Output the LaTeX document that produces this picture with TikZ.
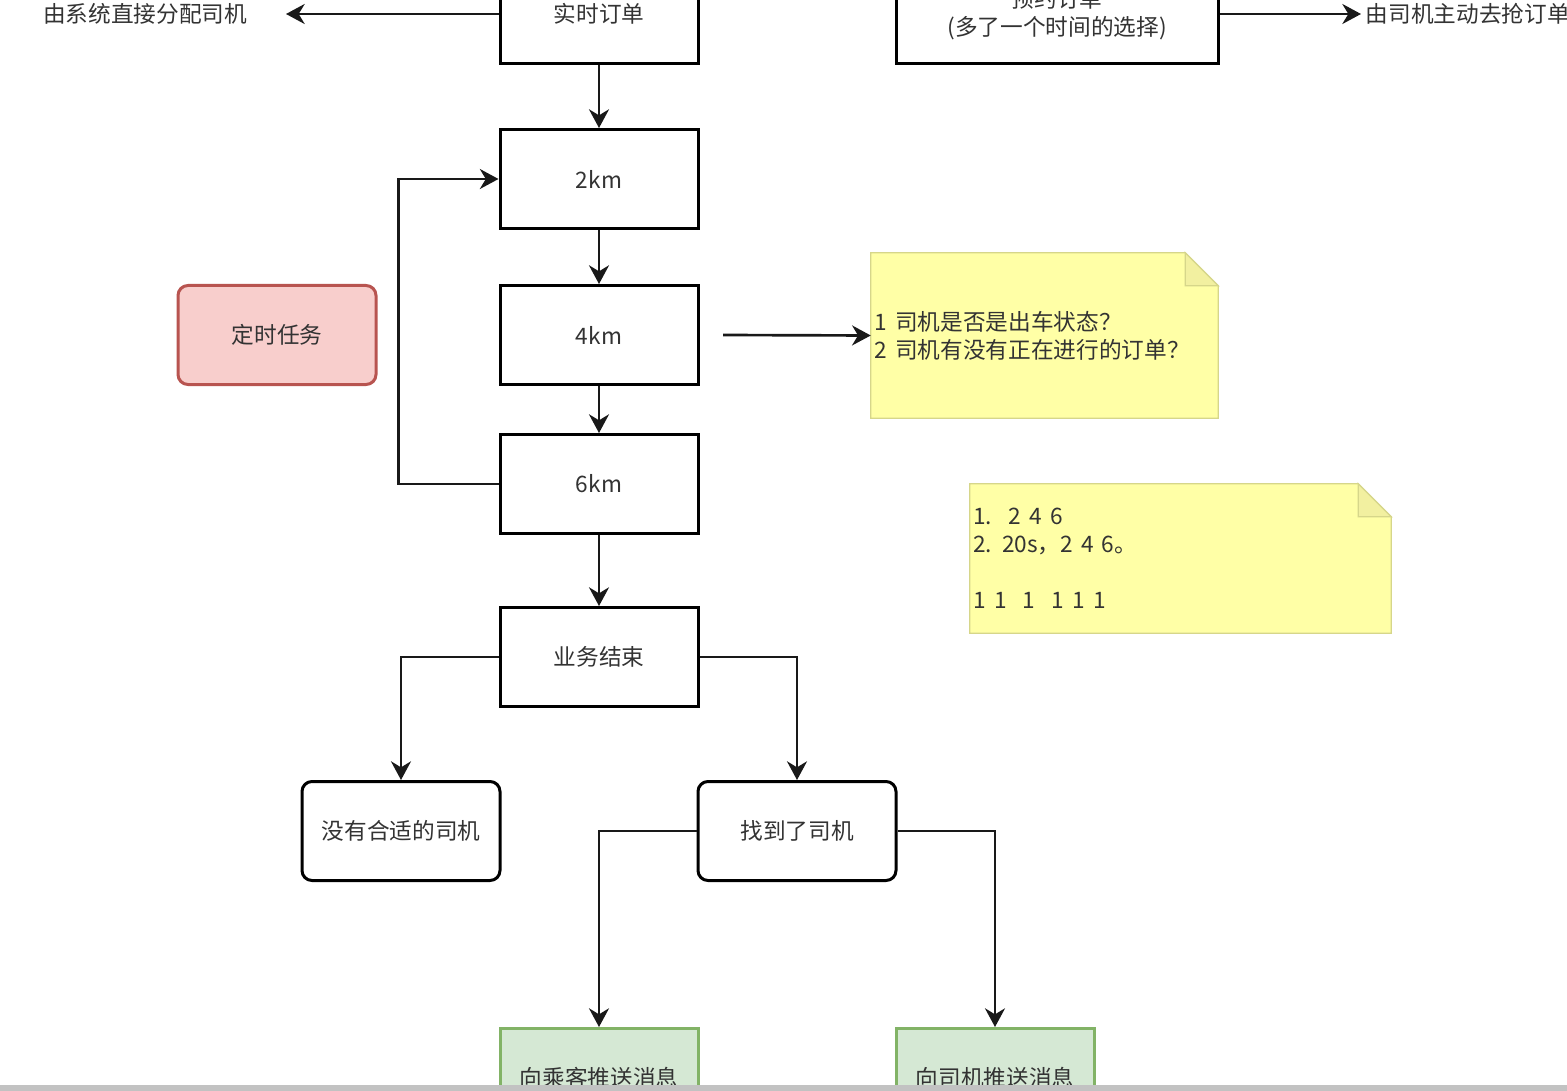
\documentclass[tikz,border=0pt]{standalone}
\usepackage{fontspec}
\setmainfont{Noto Sans CJK SC}
\usetikzlibrary{arrows.meta,positioning}

\definecolor{inktext}{HTML}{333333}
\definecolor{timerfill}{HTML}{F8CECC}
\definecolor{timerline}{HTML}{B85450}
\definecolor{pushfill}{HTML}{D5E8D4}
\definecolor{pushline}{HTML}{82B366}
\definecolor{notefill}{HTML}{FFFFA6}
\definecolor{noteline}{HTML}{D6D68A}
\definecolor{notefold}{HTML}{F2F0A0}

\newcommand\notespacing{\spaceskip=0.36em\relax}

\tikzset{
    box/.style={draw=black, line width=2.25pt, fill=white, text=inktext,
        minimum width=148.5pt, minimum height=74.25pt, inner sep=0pt,
        font=\fontsize{17}{21}\selectfont},
    roundbox/.style={box, rounded corners=7.5pt},
    link/.style={draw=black!90, line width=2pt,
        -{Stealth[length=14pt, width=15pt, inset=4.5pt]}},
    tag/.style={text=inktext, font=\fontsize{17}{21}\selectfont},
    notepaper/.style={draw=noteline, line width=1pt, fill=notefill},
    notetext/.style={tag, align=left, inner sep=0pt,
        font=\fontsize{17}{21}\selectfont\notespacing}
}

\begin{document}
\begin{tikzpicture}[x=0.75pt, y=-0.75pt]
    \useasboundingbox (0,0) rectangle (1567,1091);
    \clip (0,0) rectangle (1567,1091);

    % order types
    \node[box] (order) at (599,14) {实时订单};
    \node[box, minimum width=241.5pt, align=center] (booking) at (1057,14)
        {预约订单\\(多了一个时间的选择)};
    \node[tag] (sysLabel) at (145,14) {由系统直接分配司机};
    \node[tag, anchor=west] (grabLabel) at (1361,14) {由司机主动去抢订单};
    \draw[link] (order.west) -- (sysLabel.east -| 286,0);
    \draw[link] (booking.east) -- (grabLabel.west);

    % search radius
    \node[box] (km2) at (599,179) {2km};
    \node[box] (km4) at (599,335) {4km};
    \node[box] (km6) at (599,484) {6km};
    \node[box] (finish) at (599,657) {业务结束};
    \node[roundbox, fill=timerfill, draw=timerline] (timer) at (277,335) {定时任务};

    \draw[link] (order) -- (km2);
    \draw[link] (km2) -- (km4);
    \draw[link] (km4) -- (km6);
    \draw[link] (km6) -- (finish);
    \draw[link] (km6.west) -- ++(-100,0) |- (km2.west);

    % notes
    \path (1044.5,335.5) node[minimum width=260.25pt, minimum height=123.75pt] (note1) {};
    \draw[notepaper] (note1.south west) -- (note1.north west)
        -- ([xshift=-24.75pt]note1.north east) -- ([yshift=-24.75pt]note1.north east)
        -- (note1.south east) -- cycle;
    \filldraw[notepaper, fill=notefold] ([xshift=-24.75pt]note1.north east)
        -- ([xshift=-24.75pt, yshift=-24.75pt]note1.north east)
        -- ([yshift=-24.75pt]note1.north east) -- cycle;
    \node[notetext, right=2.5pt of note1.west] (note1txt)
        {1 司机是否是出车状态？\\2 司机有没有正在进行的订单？};
    \coordinate (km4out) at (723,335);
    \draw[link] (km4out) -- (note1.west);

    \path (1180.5,558.5) node[minimum width=315.75pt, minimum height=111.75pt] (note2) {};
    \draw[notepaper] (note2.south west) -- (note2.north west)
        -- ([xshift=-24.75pt]note2.north east) -- ([yshift=-24.75pt]note2.north east)
        -- (note2.south east) -- cycle;
    \filldraw[notepaper, fill=notefold] ([xshift=-24.75pt]note2.north east)
        -- ([xshift=-24.75pt, yshift=-24.75pt]note2.north east)
        -- ([yshift=-24.75pt]note2.north east) -- cycle;
    \node[notetext, right=2.5pt of note2.west] (note2txt)
        {1.~~2 4 6\\2. 20s，2 4 6。\\[21pt]1 1~~1~~1 1 1};

    % results
    \node[roundbox] (noDriver) at (401,831) {没有合适的司机};
    \node[roundbox] (found) at (797,831) {找到了司机};
    \draw[link] (finish.west) -| (noDriver.north);
    \draw[link] (finish.east) -| (found.north);

    \node[box, fill=pushfill, draw=pushline] (pushPass) at (599,1078) {向乘客推送消息};
    \node[box, fill=pushfill, draw=pushline] (pushDriver) at (995,1078) {向司机推送消息};
    \draw[link] (found.west) -| (pushPass.north);
    \draw[link] (found.east) -| (pushDriver.north);

    % bottom edge
    \fill[black!24] (0,1085) rectangle (1567,1091);
\end{tikzpicture}
\end{document}
